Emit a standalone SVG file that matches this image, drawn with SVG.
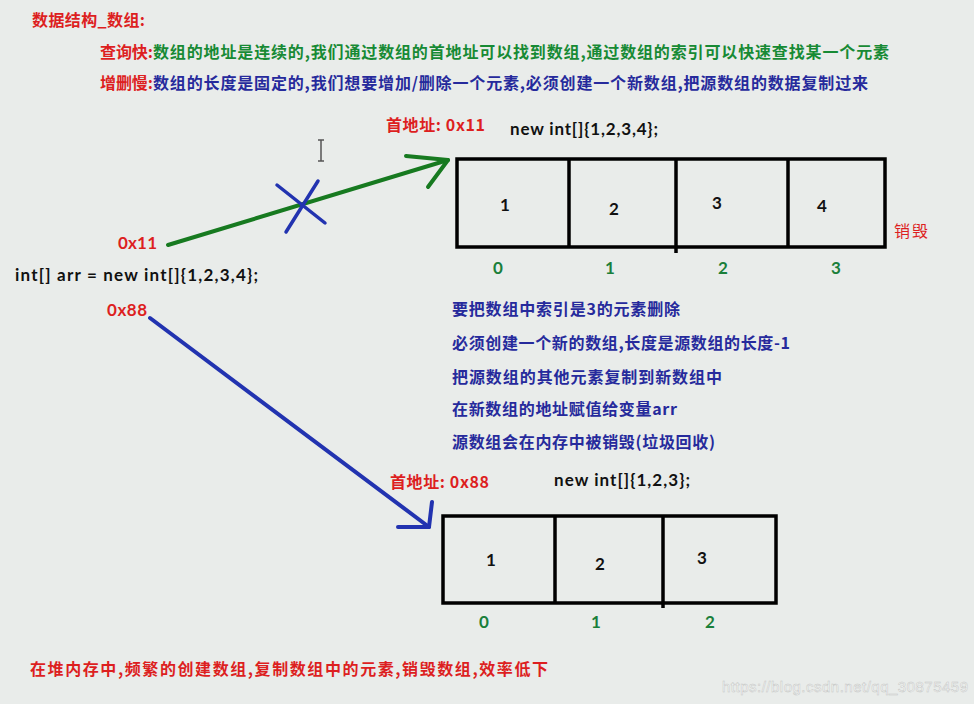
<svg xmlns="http://www.w3.org/2000/svg" width="974" height="704" viewBox="0 0 974 704">
<style>
.cjk{font-family:"Noto Sans CJK SC","Noto Sans",sans-serif;font-weight:bold;font-size:16px}
.code{font-family:Lato,"Liberation Sans",sans-serif;font-weight:bold;font-size:17px;fill:#111}
.red{fill:#dd1f1f}
.green{fill:#178a34}
.blue{fill:#262a9c}
.idx{font-family:Lato,"Liberation Sans",sans-serif;font-weight:bold;font-size:17px;fill:#1a7f3a;text-anchor:middle}
.val{font-family:Lato,"Liberation Sans",sans-serif;font-weight:bold;font-size:17px;fill:#111;text-anchor:middle}
.cell{fill:none;stroke:#000;stroke-width:3.5}
.arrow{fill:none;stroke-width:4;stroke-linecap:round;stroke-linejoin:round}
</style>
<rect width="974" height="704" fill="#e9ecea"/>

<g id="header">
<text class="cjk red" x="32" y="26" textLength="113">数据结构_数组:</text>
<text class="cjk red" x="100" y="58" textLength="53">查询快:</text>
<text class="cjk green" x="153" y="58" textLength="736">数组的地址是连续的,我们通过数组的首地址可以找到数组,通过数组的索引可以快速查找某一个元素</text>
<text class="cjk red" x="100" y="89" textLength="53">增删慢:</text>
<text class="cjk blue" x="153" y="89" textLength="715">数组的长度是固定的,我们想要增加/删除一个元素,必须创建一个新数组,把源数组的数据复制过来</text>
</g>

<g id="variable">
<text class="code red" x="118" y="249" textLength="39">0x11</text>
<text class="code" x="15" y="281" textLength="243">int[] arr = new int[]{1,2,3,4};</text>
<text class="code red" x="107" y="316" textLength="40">0x88</text>
</g>

<g id="array-old">
<text class="cjk red" x="386" y="131" textLength="99">首地址: 0x11</text>
<text class="code" x="510" y="135" textLength="148">new int[]{1,2,3,4};</text>
<rect class="cell" x="457" y="159" width="428" height="88"/>
<line class="cell" x1="569" y1="159" x2="569" y2="247"/>
<line class="cell" x1="676" y1="159" x2="676" y2="253"/>
<line class="cell" x1="788" y1="159" x2="788" y2="247"/>
<text class="val" x="505" y="211">1</text>
<text class="val" x="614" y="215">2</text>
<text class="val" x="717" y="209">3</text>
<text class="val" x="822" y="212">4</text>
<text class="idx" x="498" y="274">0</text>
<text class="idx" x="610" y="274">1</text>
<text class="idx" x="723" y="274">2</text>
<text class="idx" x="836" y="274">3</text>
<text class="cjk red" x="894" y="237" textLength="34" style="font-weight:normal">销毁</text>
</g>

<g id="steps">
<text class="cjk blue" x="452" y="315" textLength="228">要把数组中索引是3的元素删除</text>
<text class="cjk blue" x="452" y="349" textLength="338">必须创建一个新的数组,长度是源数组的长度-1</text>
<text class="cjk blue" x="452" y="383" textLength="270">把源数组的其他元素复制到新数组中</text>
<text class="cjk blue" x="452" y="415" textLength="225">在新数组的地址赋值给变量arr</text>
<text class="cjk blue" x="452" y="448" textLength="263">源数组会在内存中被销毁(垃圾回收)</text>
</g>

<g id="array-new">
<text class="cjk red" x="390" y="488" textLength="99">首地址: 0x88</text>
<text class="code" x="554" y="486" textLength="136">new int[]{1,2,3};</text>
<rect class="cell" x="443" y="516" width="333" height="87"/>
<line class="cell" x1="555" y1="516" x2="555" y2="603"/>
<line class="cell" x1="663" y1="516" x2="663" y2="608"/>
<text class="val" x="491" y="566">1</text>
<text class="val" x="600" y="570">2</text>
<text class="val" x="702" y="564">3</text>
<text class="idx" x="484" y="628">0</text>
<text class="idx" x="596" y="628">1</text>
<text class="idx" x="710" y="628">2</text>
</g>

<g id="footer">
<text class="cjk red" x="30" y="675" textLength="518">在堆内存中,频繁的创建数组,复制数组中的元素,销毁数组,效率低下</text>
<text x="722" y="692" textLength="246" style="font-family:'Liberation Sans',sans-serif;font-size:15px;fill:#fbfbfb;stroke:#c4c6c4;stroke-width:0.5">https://blog.csdn.net/qq_30875459</text>
</g>

<g id="connectors">
<line class="arrow" stroke="#177a20" x1="168" y1="245" x2="448" y2="160"/>
<polyline class="arrow" stroke="#177a20" points="406,156 448,160 428,187"/>
<line stroke="#2233b0" stroke-width="3.5" stroke-linecap="round" x1="277" y1="185" x2="325" y2="223"/>
<line stroke="#2233b0" stroke-width="3.5" stroke-linecap="round" x1="318" y1="181" x2="286" y2="232"/>
<line class="arrow" stroke="#2233b0" x1="150" y1="318" x2="429" y2="527"/>
<polyline class="arrow" stroke="#2233b0" points="398,527 429,527 432,502"/>
</g>

<g id="cursor" stroke="#555" stroke-width="1.5" fill="none">
<line x1="321" y1="140" x2="321" y2="161"/>
<line x1="318" y1="140" x2="324" y2="140"/>
<line x1="318" y1="161" x2="324" y2="161"/>
</g>
</svg>
